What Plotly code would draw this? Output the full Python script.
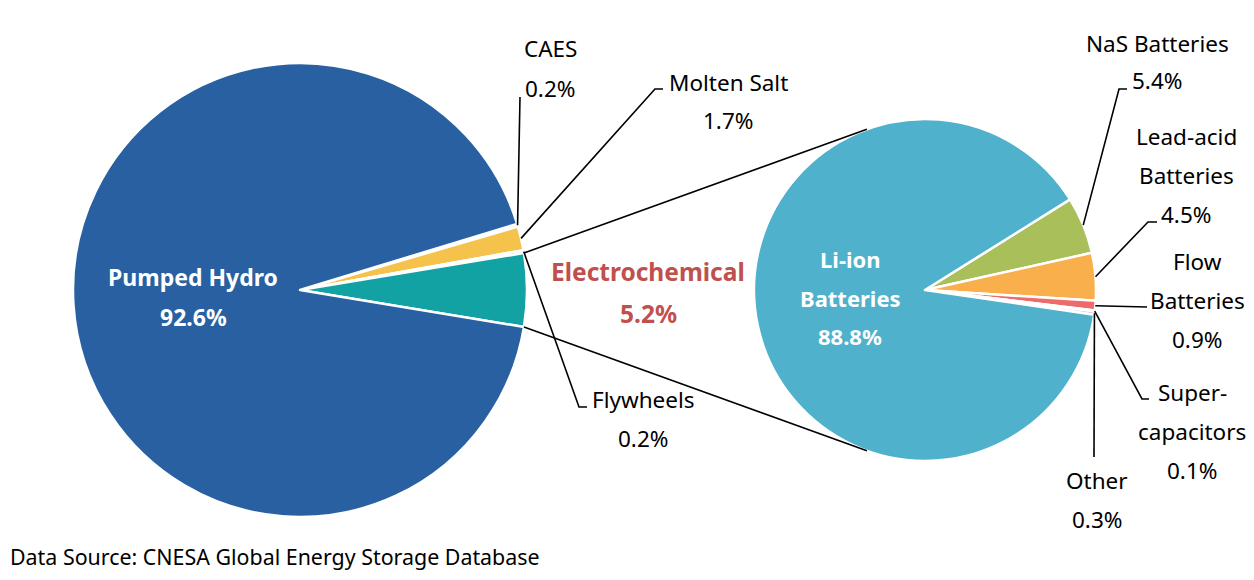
"""Pie-of-pie chart: global energy storage by technology (CNESA)."""
import math
import plotly.graph_objects as go

# ---- data ----
main_labels = ["CAES", "Molten Salt", "Flywheels", "Electrochemical", "Pumped Hydro"]
main_values = [0.2, 1.7, 0.2, 5.2, 92.6]
main_colors = ["#F0E0B0", "#F5C34B", "#9DC3E6", "#12A2A4", "#2860A1"]

sub_labels = ["NaS Batteries", "Lead-acid Batteries", "Flow Batteries",
              "Supercapacitors", "Other", "Li-ion Batteries"]
sub_values = [5.4, 4.5, 0.9, 0.1, 0.3, 88.8]
sub_colors = ["#A9BF5A", "#F9AF4B", "#EE6B6B", "#B4C7E7", "#C9B8E0", "#4FB1CB"]

# ---- layout geometry (page pixels) ----
PAGE_W, PAGE_H = 1254, 580
OFF = 8                      # default body margin of the html page
W, H = PAGE_W - 2 * OFF, PAGE_H - 2 * OFF
L_CX, L_CY, L_R = 300, 290, 227
R_CX, R_CY, R_R = 925, 290, 171
SUB_START = 32.0          # math angle where the first sub slice begins
FONT = "Noto Sans"
FS = 22.5
FS_BOLD = 23
STEP = 39


def px(x):
    return (x - OFF) / W


def py(y):
    return 1 - (y - OFF) / H


def domain(cx, cy, r):
    return dict(x=[px(cx - r), px(cx + r)], y=[py(cy + r), py(cy - r)])


def edges(values, start):
    tot = sum(values)
    out, a = [], start
    for v in values:
        b = a - 360 * v / tot
        out.append((a, b))
        a = b
    return out


def on_circle(cx, cy, r, ang):
    t = math.radians(ang)
    return cx + r * math.cos(t), cy - r * math.sin(t)


# left pie: electrochemical slice centred on 3 o'clock
tot_main = sum(main_values)
main_start = 360 * (sum(main_values[:3]) + main_values[3] / 2) / tot_main
main_edges = edges(main_values, main_start)
sub_edges = edges(sub_values, SUB_START)

fig = go.Figure()
fig.add_trace(go.Pie(
    labels=main_labels, values=main_values, sort=False, direction="clockwise",
    rotation=90 - main_start, domain=domain(L_CX, L_CY, L_R),
    marker=dict(colors=main_colors, line=dict(color="white", width=2.5)),
    textinfo="none", hoverinfo="label+percent", showlegend=False,
))
fig.add_trace(go.Pie(
    labels=sub_labels, values=sub_values, sort=False, direction="clockwise",
    rotation=90 - SUB_START, domain=domain(R_CX, R_CY, R_R),
    marker=dict(colors=sub_colors, line=dict(color="white", width=2.5)),
    textinfo="none", hoverinfo="label+percent", showlegend=False,
))

shapes = []


def seg(points):
    path = "M " + " L ".join(f"{px(x):.5f},{py(y):.5f}" for x, y in points)
    shapes.append(dict(type="path", path=path, xref="paper", yref="paper",
                       line=dict(color="black", width=1.6)))


# connector lines: edges of electrochemical slice -> tangents of the sub pie
top_a, bot_a = main_edges[3]
for ang, sign in [(top_a, -1), (bot_a, 1)]:
    p = on_circle(L_CX, L_CY, L_R, ang)
    dx, dy = p[0] - R_CX, -(p[1] - R_CY)
    d = math.hypot(dx, dy)
    theta = math.degrees(math.atan2(dy, dx)) + sign * math.degrees(math.acos(R_R / d))
    seg([p, on_circle(R_CX, R_CY, R_R, theta)])

# leader lines (start at slice mid-angle, then elbow points)
main_leaders = {0: [(520, 97)], 1: [(655, 89), (663, 89)], 2: [(579, 407), (587, 407)]}
for i, pts in main_leaders.items():
    a, b = main_edges[i]
    seg([on_circle(L_CX, L_CY, L_R, (a + b) / 2)] + pts)

sub_leaders = {0: [(1119, 89), (1127, 89)], 1: [(1148, 222), (1157, 222)],
               2: [(1147, 307)], 3: [(1142, 399), (1149, 399)], 4: [(1094, 457)]}
for i, pts in sub_leaders.items():
    a, b = sub_edges[i]
    seg([on_circle(R_CX, R_CY, R_R, (a + b) / 2)] + pts)

annotations = []


def label(lines, x, y, color="black", bold=False, size=FS, step=STEP):
    for k, t in enumerate(lines):
        annotations.append(dict(
            text=f"<b>{t}</b>" if bold else t, x=px(x), y=py(y + k * step),
            xref="paper", yref="paper", showarrow=False,
            xanchor="center", yanchor="middle",
            font=dict(family=FONT, size=size, color=color)))


def pct(v):
    return f"{v}%"


label(["Pumped Hydro", pct(main_values[4])], 193, 277, "white", True, FS_BOLD, 40)
label(["Electrochemical", pct(main_values[3])], 648, 271, "#C0504D", True, 24.5, 42)
label(["Li-ion", "Batteries", pct(sub_values[5])], 850, 259, "white", True, 22, 38.5)
label(["CAES", pct(main_values[0])], 550, 49, step=40)
label(["Molten Salt", pct(main_values[1])], 728, 82, step=38)
label(["Flywheels", pct(main_values[2])], 643, 399, step=39)
label(["NaS Batteries", pct(sub_values[0])], 1157, 43, step=38)
label(["Lead-acid", "Batteries", pct(sub_values[1])], 1186, 136)
label(["Flow", "Batteries", pct(sub_values[2])], 1197, 261)
label(["Super-", "capacitors", pct(sub_values[3])], 1192, 392)
label(["Other", pct(sub_values[4])], 1097, 480)

annotations.append(dict(
    text="Data Source: CNESA Global Energy Storage Database",
    x=0, y=py(556), xref="paper", yref="paper", showarrow=False,
    xanchor="left", yanchor="middle", font=dict(family=FONT, size=21.4, color="black")))

fig.update_layout(
    width=W, height=H,
    margin=dict(l=0, r=0, t=0, b=0),
    paper_bgcolor="white", plot_bgcolor="white",
    shapes=shapes, annotations=annotations,
)

fig.write_html("out.html")
